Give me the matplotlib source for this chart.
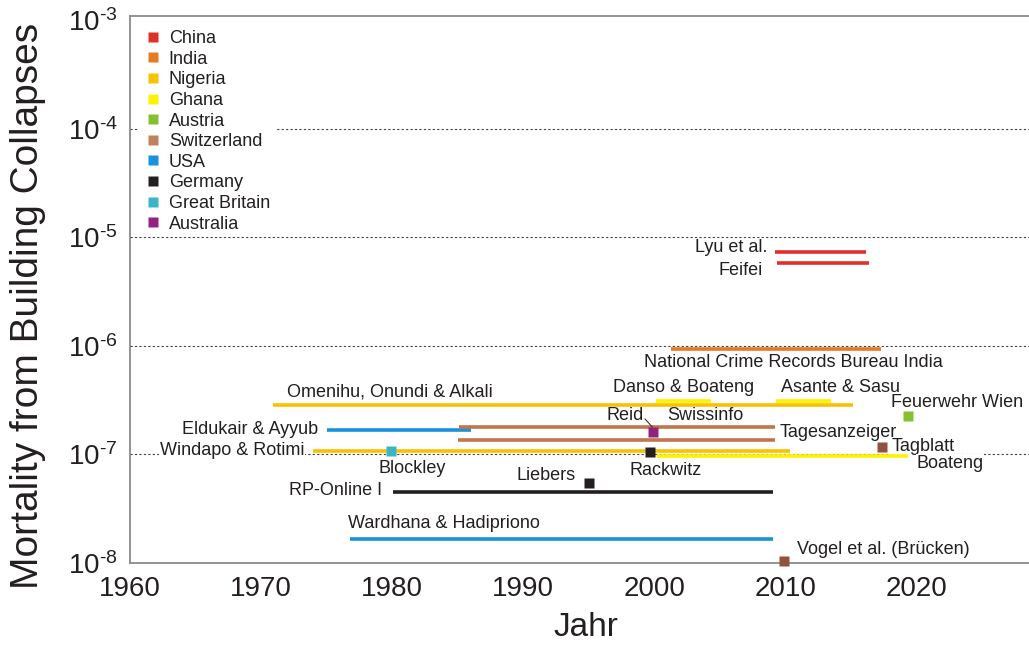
import matplotlib
matplotlib.use("Agg")
import matplotlib.pyplot as plt
from matplotlib.lines import Line2D

plt.rcParams['font.family'] = ['Liberation Sans', 'DejaVu Sans']
plt.rcParams['mathtext.fontset'] = 'custom'
plt.rcParams['mathtext.rm'] = 'Liberation Sans'
plt.rcParams['mathtext.it'] = 'Liberation Sans:italic'

TXT = '#231f20'

# legend entries
countries = ['China', 'India', 'Nigeria', 'Ghana', 'Austria', 'Switzerland',
             'USA', 'Germany', 'Great Britain', 'Australia']
colors = ['#e0302a', '#e87a24', '#f7c200', '#fff200', '#84c030', '#c0825e',
          '#1892dc', '#231f20', '#3cb4c8', '#922282']
ccol = dict(zip(countries, colors))
line_col = dict(ccol, Switzerland='#c0764a')
mark_col = dict(ccol, Switzerland='#92503e')

# period studies: (country, start year, end year, mortality)
seg_country = ['China', 'China', 'India', 'Ghana', 'Ghana', 'Nigeria', 'USA',
               'Switzerland', 'Switzerland', 'Nigeria', 'Ghana', 'Germany', 'USA']
seg_start = [2009.25, 2009.4, 2001.3, 2000.1, 2009.3, 1970.95, 1975.0,
             1985.1, 1985.0, 1974.0, 2000.2, 1980.1, 1976.8]
seg_end = [2016.2, 2016.4, 2017.3, 2004.3, 2013.5, 2015.2, 1986.0,
           2009.25, 2009.2, 2010.4, 2019.4, 2009.05, 2009.1]
seg_val = [7.26e-6, 5.75e-6, 9.4e-7, 3.12e-7, 3.12e-7, 2.87e-7, 1.68e-7,
           1.78e-7, 1.35e-7, 1.07e-7, 9.6e-8, 4.54e-8, 1.66e-8]

# single-year studies
pt_country = ['Great Britain', 'Australia', 'Germany', 'Germany', 'Austria',
              'Switzerland', 'Switzerland']
pt_year = [1979.9, 1999.9, 1999.7, 1995.0, 2019.4, 2017.4, 2009.9]
pt_val = [1.07e-7, 1.62e-7, 1.06e-7, 5.42e-8, 2.26e-7, 1.17e-7, 1.04e-8]

# source labels: text, x, y, alignment
labels = [
    ('Lyu et al.', 2008.66, 7.96e-6, 'right'),
    ('Feifei', 2008.28, 4.92e-6, 'right'),
    ('National Crime Records Bureau India', 1999.2, 6.98e-7, 'left'),
    ('Danso & Boateng', 1996.83, 4.11e-7, 'left'),
    ('Asante & Sasu', 2009.71, 4.11e-7, 'left'),
    ('Feuerwehr Wien', 2018.1, 2.99e-7, 'left'),
    ('Reid', 1996.35, 2.26e-7, 'left'),
    ('Swissinfo', 2000.98, 2.26e-7, 'left'),
    ('Tagesanzeiger', 2009.58, 1.60e-7, 'left'),
    ('Tagblatt', 2018.1, 1.18e-7, 'left'),
    ('Boateng', 2020.0, 8.28e-8, 'left'),
    ('Rackwitz', 1998.13, 7.08e-8, 'left'),
    ('Omenihu, Onundi & Alkali', 1971.97, 3.76e-7, 'left'),
    ('Eldukair & Ayyub', 1974.39, 1.68e-7, 'right'),
    ('Windapo & Rotimi', 1973.32, 1.09e-7, 'right'),
    ('Blockley', 1979.0, 7.35e-8, 'left'),
    ('Liebers', 1989.48, 6.46e-8, 'left'),
    ('RP-Online I', 1979.27, 4.64e-8, 'right'),
    ('Wardhana & Hadipriono', 1976.6, 2.33e-8, 'left'),
    ('Vogel et al. (Brücken)', 2010.86, 1.32e-8, 'left'),
]

fig = plt.figure(figsize=(10.29, 6.46), dpi=100)
ax = fig.add_axes([130 / 1029, 1 - 563 / 646, 1 - 130 / 1029, 547 / 646])
ax.set_yscale('log')
ax.set_xlim(1960, 2028.6)
ax.set_ylim(1e-8, 1.09e-3)

# grid: 1e-4 and 1e-7 sit behind legend / labels, the others stay on top
for d, z in [(1e-7, 1), (1e-6, 2.7), (1e-5, 2.7), (1e-4, 1)]:
    ax.axhline(d, color='#444444', lw=0.8, ls=(0, (2, 2)), zorder=z)

for c, a, b, v in zip(seg_country, seg_start, seg_end, seg_val):
    ax.hlines(v, a, b, color=line_col[c], lw=2.6, zorder=3)

for c, x, v in zip(pt_country, pt_year, pt_val):
    ax.plot(x, v, 's', color=mark_col[c], ms=7.2, mec='none', zorder=4, clip_on=False)

# little pointer from "Reid" to its marker
ax.plot([1999.3, 1999.85], [2.12e-7, 1.79e-7], color=TXT, lw=0.7, zorder=3)

for t, x, y, ha in labels:
    ax.text(x, y, t, ha=ha, va='center', fontsize=13, color=TXT, zorder=2.5,
            bbox=dict(facecolor='white', edgecolor='none', pad=0.5))

handles = [Line2D([], [], marker='s', ls='none', color=c, mec='none', ms=7)
           for c in colors]
leg = ax.legend(handles, countries, loc='upper left', bbox_to_anchor=(0.004, 0.994),
                fontsize=13, frameon=True, framealpha=1, facecolor='white',
                edgecolor='none', labelspacing=0.2, handlelength=1.0,
                handletextpad=0.35, borderpad=0.3, borderaxespad=0.3,
                labelcolor=TXT)
leg.set_zorder(2.6)

ax.set_xticks([1960, 1970, 1980, 1990, 2000, 2010, 2020])
ax.set_yticks([1e-8, 1e-7, 1e-6, 1e-5, 1e-4, 1e-3])
ax.set_yticklabels([r'$\mathregular{10^{\text{-}%d}}$' % k for k in [8, 7, 6, 5, 4, 3]])
ax.minorticks_off()
ax.tick_params(length=0, labelsize=20, labelcolor=TXT)
ax.tick_params(axis='x', pad=9)
ax.tick_params(axis='y', pad=9)

for s in ['left', 'bottom', 'top']:
    ax.spines[s].set_color('#8a8a8a')
    ax.spines[s].set_linewidth(1.3)
ax.spines['right'].set_visible(False)

fig.text(586 / 1029, 1 - 628 / 646, 'Jahr', fontsize=24, color=TXT, ha='center', va='center')
fig.text(28 / 1029, 1 - 306 / 646, 'Mortality from Building Collapses', fontsize=28,
         color=TXT, rotation=90, ha='center', va='center')

fig.savefig('out.png', dpi=100)
